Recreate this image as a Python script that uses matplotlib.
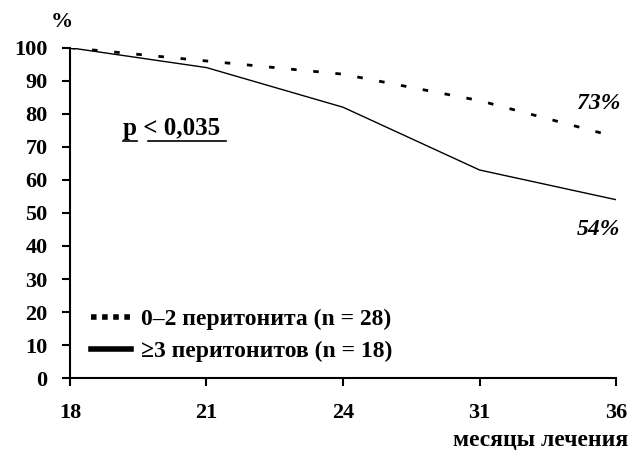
import numpy as np
import matplotlib.pyplot as plt
from matplotlib.lines import Line2D

# Survival data, %
months = ['18', '21', '24', '31', '36']
low_peritonitis = [100, 96, 92, 84, 73]    # 0-2 peritonitis episodes
high_peritonitis = [100, 94, 82, 63, 54]   # >=3 peritonitis episodes
y_ticks = [0, 10, 20, 30, 40, 50, 60, 70, 80, 90, 100]

plt.rcParams['font.family'] = ['Liberation Serif', 'DejaVu Serif']
plt.rcParams['font.weight'] = 'bold'

fig = plt.figure(figsize=(6.3, 4.55), dpi=100)
ax = fig.add_axes([0.111, 0.169, 0.867, 0.726])

x = np.arange(len(months))
ax.plot(x, low_peritonitis, color='black', linewidth=2, linestyle=(0, (2, 6)))
ax.plot(x, high_peritonitis, color='black', linewidth=1)

ax.set_xlim(0, len(months) - 1)
ax.set_ylim(0, 100)
ax.set_xticks(x)
ax.set_xticklabels(months)
ax.set_yticks(y_ticks)

for side in ['top', 'right']:
    ax.spines[side].set_visible(False)
for side in ['left', 'bottom']:
    ax.spines[side].set_linewidth(1.5)
ax.tick_params(axis='both', direction='out', width=1.5, length=6, labelsize=16)
ax.tick_params(axis='x', pad=12)
ax.tick_params(axis='y', pad=10)
for lbl in ax.get_xticklabels() + ax.get_yticklabels():
    lbl.set_fontweight('bold')

# Axis titles
fig.text(62 / 630, 1 - 22 / 455, '%', fontsize=16, fontweight='bold', ha='center', va='center')
fig.text(1 - 2 / 630, 1 - 440 / 455, 'месяцы лечения', fontsize=17, fontweight='bold', ha='right', va='center')

# End values
ax.text(x[-1] + 0.03, low_peritonitis[-1] + 10, f'{low_peritonitis[-1]}%', fontsize=17, fontweight='bold',
        style='italic', ha='right', va='center')
ax.text(x[-1] + 0.03, high_peritonitis[-1] - 9, f'{high_peritonitis[-1]}%', fontsize=17, fontweight='bold',
        style='italic', ha='right', va='center')

# p-value with underline
fig.text(123 / 630, 1 - 129 / 455, 'p < 0,035', fontsize=18, fontweight='bold', ha='left', va='center')
yu = 1 - 141 / 455
fig.add_artist(Line2D([123 / 630, 137 / 630], [yu, yu], color='black', linewidth=1.2, transform=fig.transFigure))
fig.add_artist(Line2D([148 / 630, 226 / 630], [yu, yu], color='black', linewidth=1.2, transform=fig.transFigure))

# Custom legend
handles = [Line2D([], [], color='black', linewidth=4, linestyle=(0, (1, 1))),
           Line2D([], [], color='black', linewidth=4)]
ax.legend(handles, ['0–2 перитонита (n = 28)', '≥3 перитонитов (n = 18)'],
          loc='lower left', bbox_to_anchor=(0.0, -0.015), frameon=False,
          prop={'size': 17, 'weight': 'bold'}, handlelength=1.7, handletextpad=0.4,
          labelspacing=0.42)

fig.savefig('out.png', dpi=100, facecolor='white')
